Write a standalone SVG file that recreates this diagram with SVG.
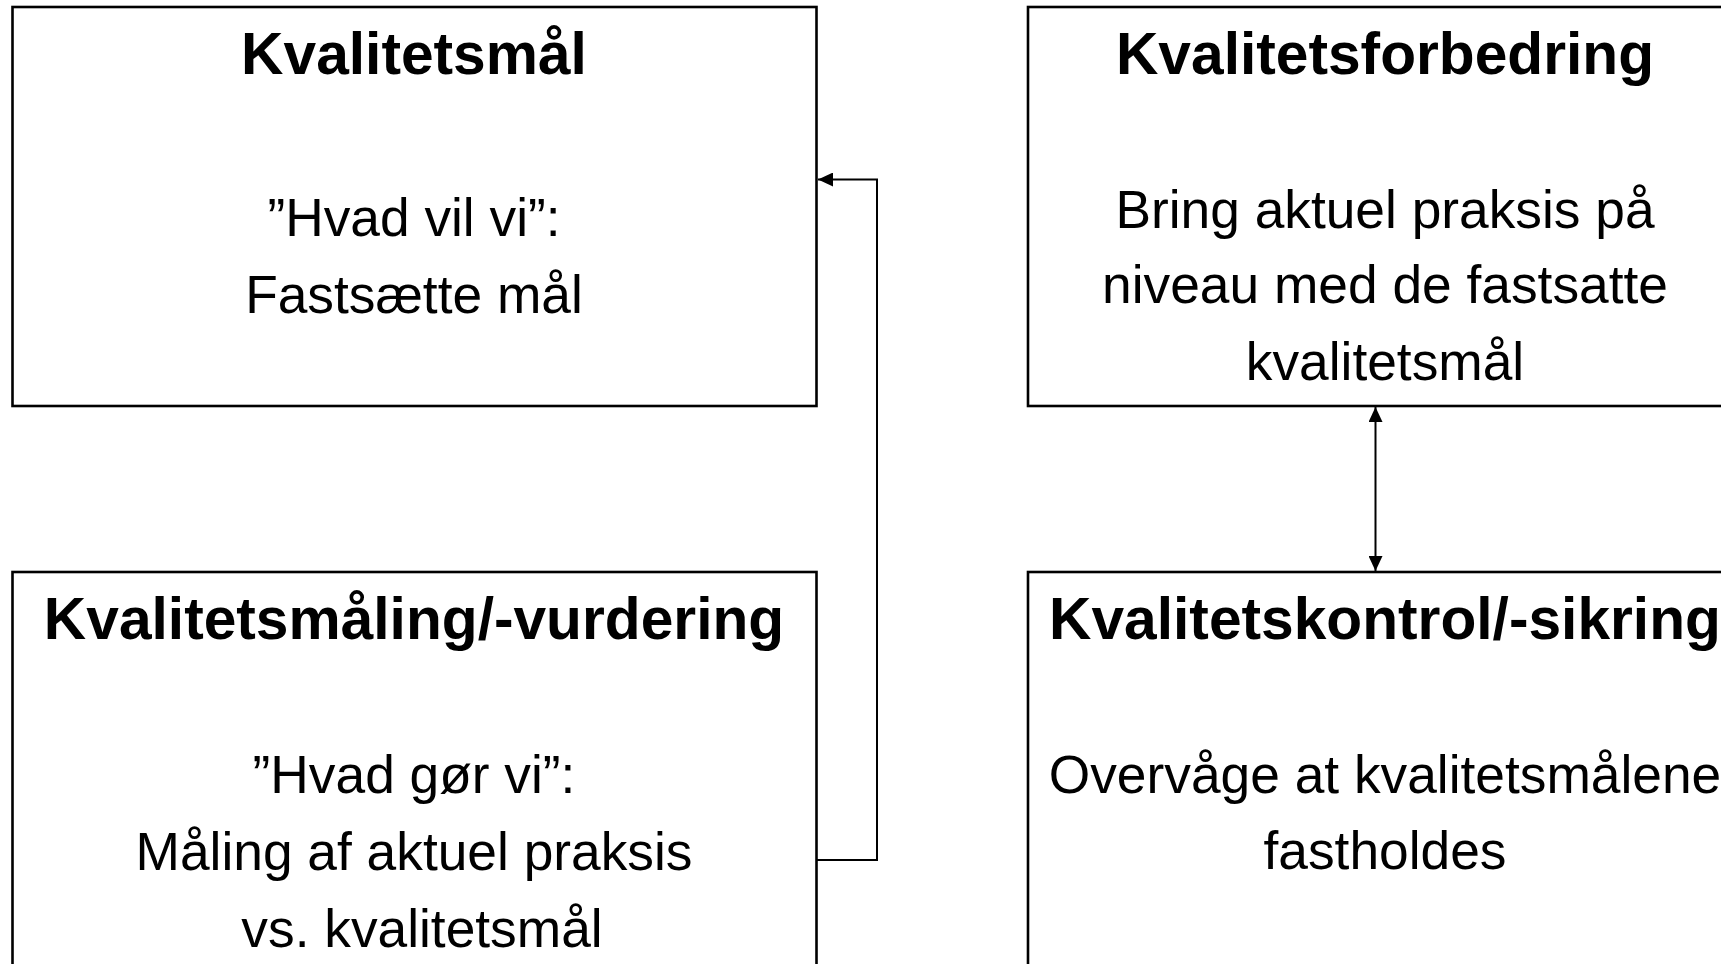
<svg xmlns="http://www.w3.org/2000/svg" width="1721" height="964" viewBox="0 0 1721 964">
<style>
.box{fill:#fff;stroke:#000;stroke-width:2.6}
.t{font-family:"Liberation Sans",Arial,sans-serif;font-weight:bold;font-size:58.7px;text-anchor:middle;fill:#000}
.b{font-family:"Liberation Sans",Arial,sans-serif;font-size:53.3px;text-anchor:middle;fill:#000}
.c{fill:none;stroke:#000;stroke-width:2}
</style>
<defs>
<marker id="ah" viewBox="0 0 15 14" refX="15" refY="7" markerWidth="15" markerHeight="14" markerUnits="userSpaceOnUse" orient="auto-start-reverse">
<path d="M0,0 L15,7 L0,14 z" fill="#000"/>
</marker>
</defs>
<rect width="1721" height="964" fill="#fff"/>
<g id="node-maal">
<rect class="box" x="12.5" y="7" width="804" height="399"/>
<text class="t" x="414" y="74">Kvalitetsmål</text>
<text class="b" x="414" y="236">”Hvad vil vi”:</text>
<text class="b" x="414" y="313">Fastsætte mål</text>
</g>
<g id="node-forbedring">
<rect class="box" x="1028" y="7" width="714" height="399"/>
<text class="t" x="1385" y="74">Kvalitetsforbedring</text>
<text class="b" x="1385" y="228">Bring aktuel praksis på</text>
<text class="b" x="1385" y="303">niveau med de fastsatte</text>
<text class="b" x="1385" y="380">kvalitetsmål</text>
</g>
<g id="node-maaling">
<rect class="box" x="12.5" y="572" width="804" height="420"/>
<text class="t" x="414" y="639">Kvalitetsmåling/-vurdering</text>
<text class="b" x="414" y="793">”Hvad gør vi”:</text>
<text class="b" x="414" y="870">Måling af aktuel praksis</text>
<text class="b" x="422" y="947">vs. kvalitetsmål</text>
</g>
<g id="node-kontrol">
<rect class="box" x="1028" y="572" width="714" height="420"/>
<text class="t" x="1385" y="639">Kvalitetskontrol/-sikring</text>
<text class="b" x="1385" y="793">Overvåge at kvalitetsmålene</text>
<text class="b" x="1385" y="869">fastholdes</text>
</g>
<g id="connectors">
<path class="c" d="M817,860 H877 V179.5 H818" marker-end="url(#ah)"/>
<path class="c" d="M1375.5,407 V571" marker-start="url(#ah)" marker-end="url(#ah)"/>
</g>
</svg>
